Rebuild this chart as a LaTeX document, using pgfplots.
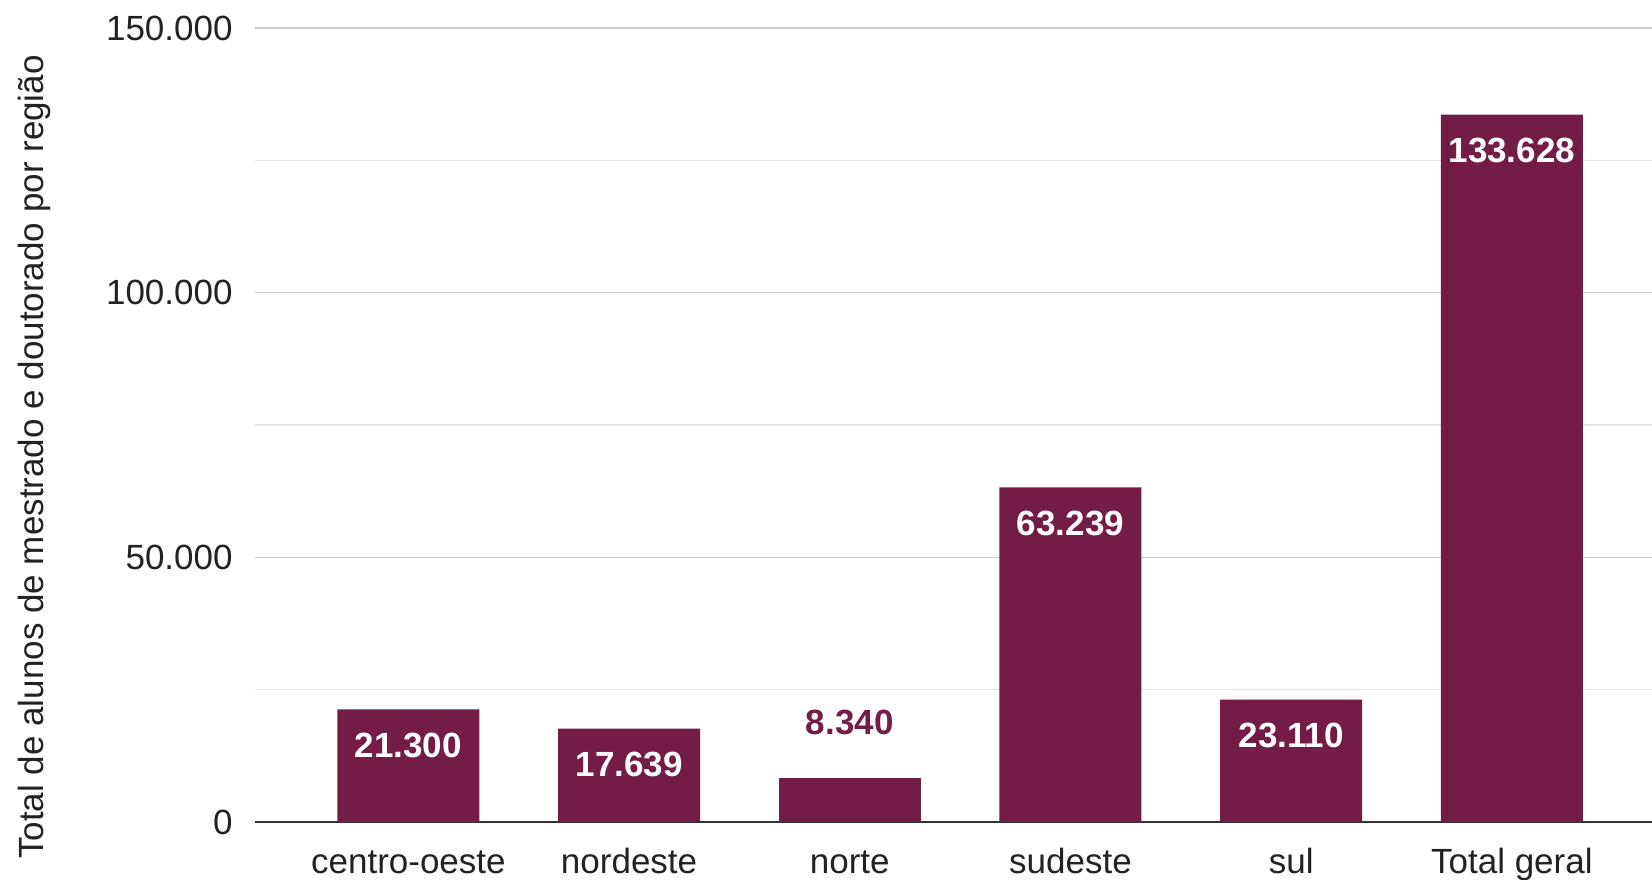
\documentclass[border=0pt]{standalone}
\usepackage{fontspec}
\setmainfont{Liberation Sans}
\usepackage{pgfplots}
\pgfplotsset{compat=1.18}

\definecolor{barcol}{HTML}{731C46}
\definecolor{gridmaj}{HTML}{CCCCCC}
\definecolor{gridmin}{HTML}{E6E6E6}
\definecolor{txt}{HTML}{222222}

\newcommand{\fs}{\fontsize{17.5}{21}\selectfont}

\begin{document}
\begin{tikzpicture}
\begin{axis}[
    name=ax,
    scale only axis,
    width=698.5pt, height=397pt,
    ybar, bar width=71pt,
    xmin=-0.695, xmax=5.635,
    ymin=0, ymax=150000,
    xtick={0,1,2,3,4,5},
    xticklabels={centro-oeste, nordeste, norte, sudeste, sul, Total geral},
    ytick={0,50000,100000,150000},
    minor ytick={25000,75000,125000},
    ymajorgrids, yminorgrids,
    major grid style={draw=gridmaj, line width=0.8pt},
    minor grid style={draw=gridmin, line width=0.8pt},
    axis x line*=bottom, axis y line*=left,
    x axis line style={draw=black!80, line width=1.2pt, -},
    y axis line style={draw=none},
    major tick length=0pt, minor tick length=0pt,
    tick style={draw=none},
    /pgf/number format/.cd, 1000 sep={.}, fixed, assume math mode=true,
    /pgfplots/.cd,
    scaled y ticks=false,
    xticklabel style={font=\fs, text=txt, anchor=base, yshift=-25.5pt},
    yticklabel style={font=\fs, text=txt, anchor=east, inner sep=0pt, xshift=-11pt},
    ylabel={Total de alunos de mestrado e doutorado por região},
    every axis y label/.style={at={(axis description cs:-0.1582,0.4597)}, rotate=90, anchor=center, font=\fs, text=txt},
]
\addplot[fill=barcol, draw=none, bar shift=0pt,
    nodes near coords={\pgfmathprintnumber[1000 sep={.}, fixed, assume math mode=true]{\pgfplotspointmeta}},
    every node near coord/.style={font=\fs\bfseries, text=white, anchor=center, yshift=-17.9pt}]
    coordinates {(0,21300) (1,17639) (3,63239) (4,23110) (5,133628)};
\addplot[fill=barcol, draw=none, bar shift=0pt,
    nodes near coords={\pgfmathprintnumber[1000 sep={.}, fixed, assume math mode=true]{\pgfplotspointmeta}},
    every node near coord/.style={font=\fs\bfseries, text=barcol, anchor=center, yshift=27.9pt}]
    coordinates {(2,8340)};
\end{axis}
\pgfresetboundingbox
\path ([xshift=-127.5pt,yshift=-28.5pt]ax.south west) rectangle ([yshift=14pt]ax.north east);
\end{tikzpicture}
\end{document}
